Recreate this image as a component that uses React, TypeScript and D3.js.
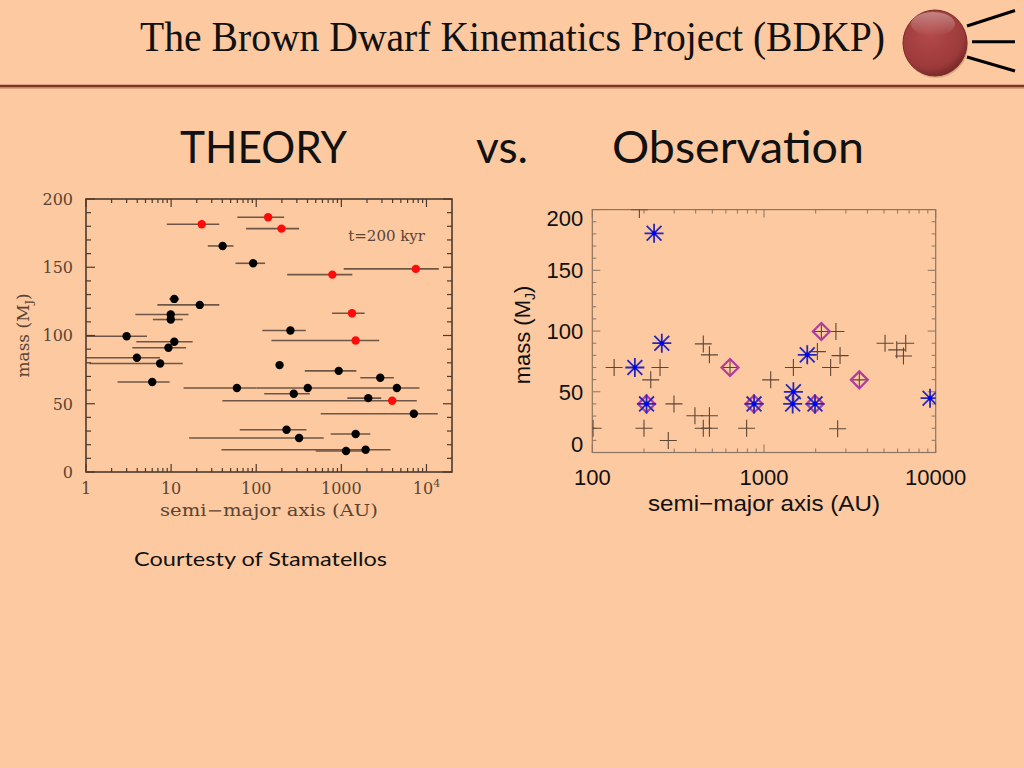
import React from 'react';
import * as d3 from 'd3';

// ---------- Left chart (theory) data ----------
const redA = [22.9, 138, 198, 784, 7500, 1334, 1472, 3960];
const redM = [181.5, 186.6, 178.3, 144.6, 148.8, 116.3, 96.3, 52.2];
const redLo = [8.9, 60, 76, 231, 1065, 777, 151, 40];
const redHi = [36.8, 213, 319, 1346, 13960, 1876, 2786, 7700];

const blackA = [40.3, 92, 10.9, 21.7, 9.9, 9.9, 3.0, 252, 10.9, 9.3, 3.96, 7.43, 188, 6.0, 931, 2864, 59.3, 403, 4490, 276, 2071, 7110, 227, 319, 1472, 1135, 1928];
const blackM = [165.6, 152.9, 126.8, 122.4, 115.4, 111.7, 99.5, 103.7, 95.4, 91.0, 83.7, 79.5, 78.3, 65.9, 74.1, 69.0, 61.5, 61.5, 61.5, 57.3, 54.1, 42.7, 31.0, 24.9, 27.8, 15.4, 16.3];
const blackLo = [27, 57, 9.5, 6.9, 3.8, 6.1, 0.3, 118, 3.9, 3.5, 0.3, 1.1, 173, 2.35, 372, 1670, 14, 101, 698, 124, 1175, 573, 64, 16.3, 750, 500, 39];
const blackHi = [54, 127, 12.4, 36.8, 16, 13.7, 5.2, 382, 17.9, 15, 7.4, 13.7, 207, 9.6, 1500, 4140, 101, 698, 8280, 426, 2944, 13580, 389, 621, 2188, 1963, 3785];

const leftYTicks = [0, 50, 100, 150, 200];
const leftXTicks = [1, 10, 100, 1000, 10000];

// ---------- Right chart (observation) data ----------
const plusA = [188, 101, 134, 219, 248, 200, 277, 299, 443, 481, 396, 481, 443, 481, 792, 634, 1094, 1483, 2046, 2624, 2773, 2444, 2685, 5070, 5930, 6690, 6490, 2158, 3590];
const plusM = [200, 20, 70, 59.8, 70, 20, 9.9, 40, 89.4, 80.4, 30.2, 30.2, 20, 20, 20, 70, 59.8, 70, 83.1, 99.6, 79.8, 70, 19.5, 90, 84.5, 90, 79.5, 99.6, 59.8];
const starA = [229, 254, 177, 207, 875, 1469, 1483, 1786, 1982, 9270];
const starM = [180.5, 90, 70, 40, 40, 40, 50, 80.4, 40, 44.7];
const diaA = [207, 875, 634, 2158, 1982, 3590];
const diaM = [40, 40, 70, 99.6, 40, 59.8];

const rightYTicks = [0, 50, 100, 150, 200];
const rightXTicks = [100, 1000, 10000];

const BG = '#fdc9a0';

function logTicks(lo: number, hi: number) {
  const out: { v: number; major: boolean }[] = [];
  for (let d = Math.floor(Math.log10(lo)); d <= Math.ceil(Math.log10(hi)); d++) {
    for (let k = 1; k <= 9; k++) {
      const v = k * Math.pow(10, d);
      if (v >= lo * 0.999 && v <= hi * 1.001) out.push({ v, major: k === 1 });
    }
  }
  return out;
}

function LeftChart() {
  const x = d3.scaleLog().domain([1, Math.pow(10, 4.3)]).range([86, 452]);
  const y = d3.scaleLinear().domain([0, 200]).range([472, 199]);
  const [x0, x1] = x.range();
  const [y0, y1] = y.range();
  const ink = '#4d3a2c';
  const font = '"DejaVu Serif", serif';
  const xt = logTicks(1, Math.pow(10, 4.3));
  const yt = d3.range(0, 201, 10);
  return (
    <g>
      <defs>
        <clipPath id="lclip">
          <rect x={x0} y={y1} width={x1 - x0} height={y0 - y1} />
        </clipPath>
      </defs>
      <g clipPath="url(#lclip)">
        {blackA.map((a, i) => (
          <line key={'be' + i} x1={x(blackLo[i])} x2={x(blackHi[i])} y1={y(blackM[i])} y2={y(blackM[i])} stroke="#6e5646" strokeWidth={1.6} />
        ))}
        {redA.map((a, i) => (
          <line key={'re' + i} x1={x(redLo[i])} x2={x(redHi[i])} y1={y(redM[i])} y2={y(redM[i])} stroke="#6e5646" strokeWidth={1.6} />
        ))}
        {blackA.map((a, i) => (
          <circle key={'b' + i} cx={x(a)} cy={y(blackM[i])} r={4.2} fill="#000" />
        ))}
        {redA.map((a, i) => (
          <circle key={'r' + i} cx={x(a)} cy={y(redM[i])} r={4.2} fill="#ff0a0a" />
        ))}
      </g>
      {xt.map((t, i) => {
        const L = t.major ? 8 : 4;
        return (
          <g key={'xt' + i} stroke={ink} strokeWidth={1.2}>
            <line x1={x(t.v)} x2={x(t.v)} y1={y0} y2={y0 - L} />
            <line x1={x(t.v)} x2={x(t.v)} y1={y1} y2={y1 + L} />
          </g>
        );
      })}
      {yt.map((v, i) => {
        const L = v % 50 === 0 ? 9 : 5;
        return (
          <g key={'yt' + i} stroke={ink} strokeWidth={1.2}>
            <line x1={x0} x2={x0 + L} y1={y(v)} y2={y(v)} />
            <line x1={x1} x2={x1 - L} y1={y(v)} y2={y(v)} />
          </g>
        );
      })}
      <rect x={x0} y={y1} width={x1 - x0} height={y0 - y1} fill="none" stroke={ink} strokeWidth={1.6} />
      {leftYTicks.map((v) => (
        <text key={'yl' + v} x={x0 - 13} y={y(v)} dy="0.36em" textAnchor="end" fontFamily={font} fontSize={16} fill="#5a4434">{v}</text>
      ))}
      {leftXTicks.map((v) => (
        <text key={'xl' + v} x={x(v)} y={y0 + 22} textAnchor="middle" fontFamily={font} fontSize={16} fill="#5a4434">
          {v === 10000 ? (<>10<tspan dy="-7" fontSize={11}>4</tspan></>) : v}
        </text>
      ))}
      <text x={(x0 + x1) / 2} y={516} textAnchor="middle" fontFamily={font} fontSize={16} fill="#5a4434" textLength={218} lengthAdjust="spacingAndGlyphs">semi−major axis (AU)</text>
      <text transform={`translate(29,${(y0 + y1) / 2}) rotate(-90)`} textAnchor="middle" fontFamily={font} fontSize={17} fill="#5a4434">
        mass (M<tspan dy="4" fontSize={11}>J</tspan><tspan dy="-4">)</tspan>
      </text>
      <text x={425} y={241} textAnchor="end" fontFamily={font} fontSize={15} fill="#5a4434">t=200 kyr</text>
    </g>
  );
}

function RightChart() {
  const x = d3.scaleLog().domain([100, 10000]).range([592.3, 935.7]);
  const y = d3.scaleLinear().domain([0, 200]).range([452.5, 209.6]);
  const [x0, x1] = x.range();
  const [y0, y1] = y.range();
  const frame = '#8c7462';
  const font = '"Liberation Sans", Arial, sans-serif';
  const xt = logTicks(100, 10000);
  const yt = d3.range(0, 201, 10);
  const ps = 8.5;
  const ss = 9.5;
  const ds = 8.5;
  return (
    <g>
      <defs>
        <clipPath id="rclip">
          <rect x={x0} y={y1} width={x1 - x0} height={y0 - y1} />
        </clipPath>
      </defs>
      {xt.map((t, i) => {
        const L = t.major ? 8 : 4;
        return (
          <g key={'xt' + i} stroke={frame} strokeWidth={1}>
            <line x1={x(t.v)} x2={x(t.v)} y1={y0} y2={y0 - L} />
            <line x1={x(t.v)} x2={x(t.v)} y1={y1} y2={y1 + L} />
          </g>
        );
      })}
      {yt.map((v, i) => {
        const L = v % 50 === 0 ? 8 : 4;
        return (
          <g key={'yt' + i} stroke={frame} strokeWidth={1}>
            <line x1={x0} x2={x0 + L} y1={y(v)} y2={y(v)} />
            <line x1={x1} x2={x1 - L} y1={y(v)} y2={y(v)} />
          </g>
        );
      })}
      <rect x={x0} y={y1} width={x1 - x0} height={y0 - y1} fill="none" stroke={frame} strokeWidth={1.2} />
      <g clipPath="url(#rclip)">
        {plusA.map((a, i) => {
          const cx = x(a), cy = y(plusM[i]);
          return (
            <g key={'p' + i} stroke="#5c4636" strokeWidth={1.1}>
              <line x1={cx - ps} x2={cx + ps} y1={cy} y2={cy} />
              <line x1={cx} x2={cx} y1={cy - ps} y2={cy + ps} />
            </g>
          );
        })}
        {diaA.map((a, i) => {
          const cx = x(a), cy = y(diaM[i]);
          return (
            <path key={'d' + i} d={`M${cx},${cy - ds}L${cx + ds},${cy}L${cx},${cy + ds}L${cx - ds},${cy}Z`} fill="none" stroke="#b23c9c" strokeWidth={2.2} />
          );
        })}
        {starA.map((a, i) => {
          const cx = x(a), cy = y(starM[i]);
          const q = ss * 0.78;
          return (
            <g key={'s' + i} stroke="#2828b8" strokeWidth={1.8}>
              <line x1={cx - ss} x2={cx + ss} y1={cy} y2={cy} />
              <line x1={cx} x2={cx} y1={cy - ss} y2={cy + ss} />
              <line x1={cx - q} x2={cx + q} y1={cy - q} y2={cy + q} />
              <line x1={cx - q} x2={cx + q} y1={cy + q} y2={cy - q} />
              <circle cx={cx} cy={cy} r={2.3} fill="#0000ff" stroke="none" />
            </g>
          );
        })}
      </g>
      {rightYTicks.map((v) => {
        const py = Math.max(y1 + 8, Math.min(y0 - 8, y(v)));
        return (
          <text key={'yl' + v} x={x0 - 9} y={py} dy="0.36em" textAnchor="end" fontFamily={font} fontSize={22} fill="#111">{v}</text>
        );
      })}
      {rightXTicks.map((v) => (
        <text key={'xl' + v} x={x(v)} y={485} textAnchor="middle" fontFamily={font} fontSize={22} fill="#111">{v}</text>
      ))}
      <text x={764} y={511} textAnchor="middle" fontFamily={font} fontSize={22} fill="#111" textLength={232} lengthAdjust="spacingAndGlyphs">semi−major axis (AU)</text>
      <text transform={`translate(530,335) rotate(-90)`} textAnchor="middle" fontFamily={font} fontSize={22} fill="#111">
        mass (M<tspan dy="5" fontSize={14}>J</tspan><tspan dy="-5">)</tspan>
      </text>
    </g>
  );
}

export default function App() {
  React.useEffect(() => {
    document.body.style.margin = '0';
    document.body.style.background = BG;
  }, []);
  const slideFont = 'Lato, "Open Sans", sans-serif';
  return (
    <svg width={1024} height={768} style={{ position: 'absolute', left: 0, top: 0, display: 'block' }}>
      <defs>
        <radialGradient id="ball" cx="0.42" cy="0.35" r="0.7">
          <stop offset="0" stopColor="#b44a4a" />
          <stop offset="0.75" stopColor="#9c3a3a" />
          <stop offset="1" stopColor="#6e2424" />
        </radialGradient>
        <linearGradient id="shine" x1="0" y1="0" x2="0" y2="1">
          <stop offset="0" stopColor="#fff" stopOpacity="0.35" />
          <stop offset="1" stopColor="#fff" stopOpacity="0" />
        </linearGradient>
      </defs>
      <rect x={0} y={0} width={1024} height={768} fill={BG} />
      <text x={140} y={51} fontFamily='"Liberation Serif", "DejaVu Serif", serif' fontSize={42} fill="#111" textLength={745} lengthAdjust="spacingAndGlyphs">The Brown Dwarf Kinematics Project (BDKP)</text>
      <line x1={0} x2={1024} y1={88} y2={88} stroke="#d8a27c" strokeWidth={2} />
      <line x1={0} x2={1024} y1={86} y2={86} stroke="#7c3626" strokeWidth={2.6} />
      <ellipse cx={936} cy={45} rx={32} ry={33} fill="#c08868" opacity={0.5} />
      <ellipse cx={935} cy={43} rx={32} ry={33} fill="url(#ball)" stroke="#7a2a2a" strokeWidth={1} />
      <ellipse cx={933} cy={24} rx={22} ry={12} fill="url(#shine)" />
      <g stroke="#000" strokeWidth={3} strokeLinecap="butt">
        <line x1={967} y1={26} x2={1015} y2={10.5} />
        <line x1={972} y1={41.7} x2={1015} y2={41.7} />
        <line x1={967} y1={57} x2={1015} y2={71} />
      </g>
      <text x={180} y={163} fontFamily={slideFont} fontSize={44} fill="#111" textLength={167} lengthAdjust="spacingAndGlyphs">THEORY</text>
      <text x={476} y={163} fontFamily={slideFont} fontSize={44} fill="#111" textLength={52} lengthAdjust="spacingAndGlyphs">vs.</text>
      <text x={612} y={163} fontFamily={slideFont} fontSize={44} fill="#111" textLength={252} lengthAdjust="spacingAndGlyphs">Observation</text>
      <LeftChart />
      <RightChart />
      <text x={134} y={566} fontFamily={slideFont} fontSize={20} fill="#111" textLength={253} lengthAdjust="spacingAndGlyphs">Courtesty of Stamatellos</text>
    </svg>
  );
}
